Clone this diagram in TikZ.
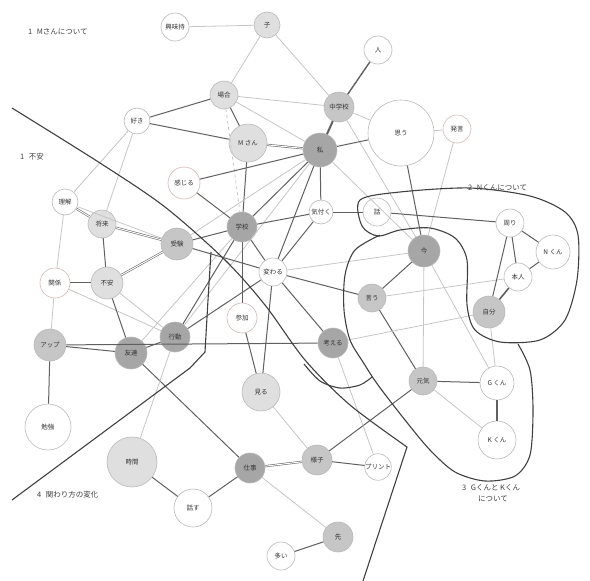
\documentclass[tikz,border=0pt]{standalone}
\usepackage{fontspec}
\setmainfont{Noto Sans CJK JP}
\begin{document}
\begin{tikzpicture}[x=1pt,y=-1pt,
  nd/.style={circle,draw=gray!55,line width=0.6pt,inner sep=0pt,font=\fontsize{6.5}{7}\selectfont,text=black!80},
  pk/.style={draw=red!25!gray!45},
  dk/.style={fill=gray!70},
  md/.style={fill=gray!45},
  lt/.style={fill=gray!25},
  wt/.style={fill=white},
  ed/.style={draw=gray!75!black,line width=1pt},
  el/.style={draw=gray!45,line width=0.8pt},
  dbl/.style={draw=gray!75!black,double=white,double distance=1pt,line width=0.55pt},
  bd/.style={draw=black!75,line width=1.1pt},
  lab/.style={anchor=west,font=\fontsize{7.5}{8}\selectfont,text=black!75,inner sep=0pt}]
\useasboundingbox (0,0) rectangle (590,581);
% nodes
\node[nd,wt,minimum size=28] (kyomi) at (175,27) {興味持};
\node[nd,lt,minimum size=26] (ko) at (267,25) {子};
\node[nd,wt,minimum size=28] (hito) at (378,50) {人};
\node[nd,lt,minimum size=28] (baai) at (224,95) {場合};
\node[nd,md,minimum size=30] (chu) at (339,107) {中学校};
\node[nd,wt,minimum size=26] (suki) at (137,121) {好き};
\node[nd,lt,minimum size=38] (msan) at (248,143) {M さん};
\node[nd,dk,minimum size=34] (wata) at (320,150) {私};
\node[nd,wt,minimum size=66] (omou) at (401,133) {思う};
\node[nd,wt,pk,minimum size=28] (hatsu) at (457,129) {発言};
\node[nd,wt,pk,minimum size=32] (kanji) at (184,183) {感じる};
\node[nd,wt,minimum size=24] (kizu) at (321,212) {気付く};
\node[nd,wt,minimum size=28] (hanashi) at (377,212) {話};
\node[nd,dk,minimum size=30] (gakko) at (242,227) {学校};
\node[nd,wt,minimum size=26] (rikai) at (65,202) {理解};
\node[nd,lt,minimum size=28] (shorai) at (102,224) {将来};
\node[nd,md,minimum size=32] (juken) at (177,244) {受験};
\node[nd,wt,minimum size=28] (kawaru) at (273,272) {変わる};
\node[nd,wt,pk,minimum size=30] (kankei) at (55,283) {関係};
\node[nd,lt,minimum size=32] (fuan) at (107,283) {不安};
\node[nd,md,minimum size=28] (iu) at (372,298) {言う};
\node[nd,dk,minimum size=32] (ima) at (424,251) {今};
\node[nd,wt,minimum size=28] (mawari) at (510,223) {周り};
\node[nd,wt,minimum size=34] (nkun) at (553,252) {N くん};
\node[nd,wt,minimum size=28] (honnin) at (518,277) {本人};
\node[nd,md,minimum size=32] (jibun) at (489,312) {自分};
\node[nd,dk,minimum size=30] (kangae) at (333,343) {考える};
\node[nd,dk,minimum size=30] (kodo) at (175,337) {行動};
\node[nd,dk,minimum size=32] (tomo) at (131,353) {友達};
\node[nd,md,minimum size=32] (up) at (50,345) {アップ};
\node[nd,wt,pk,minimum size=30] (sanka) at (242,318) {参加};
\node[nd,lt,minimum size=38] (miru) at (261,392) {見る};
\node[nd,wt,minimum size=46] (benkyo) at (48,427) {勉強};
\node[nd,lt,minimum size=50] (jikan) at (132,462) {時間};
\node[nd,wt,minimum size=38] (hanasu) at (193,508) {話す};
\node[nd,dk,minimum size=30] (shigoto) at (250,468) {仕事};
\node[nd,md,minimum size=30] (yosu) at (317,460) {様子};
\node[nd,wt,minimum size=26] (print) at (378,467) {プリント};
\node[nd,md,minimum size=30] (saki) at (338,537) {先};
\node[nd,wt,minimum size=28] (oi) at (281,556) {多い};
\node[nd,md,minimum size=28] (genki) at (423,381) {元気};
\node[nd,wt,minimum size=34] (gkun) at (497,383) {G くん};
\node[nd,wt,minimum size=38] (kkun) at (497,440) {K くん};
% edges
\draw[el] (kyomi) -- (ko);
\draw[el] (ko) -- (baai);
\draw[el] (ko) -- (chu);
\draw[ed,line width=1.4pt] (hito) -- (chu);
\draw[ed] (baai) -- (suki);
\draw[ed] (baai) -- (msan);
\draw[el] (baai) -- (chu);
\draw[el] (baai) -- (wata);
\draw[el,dashed] (baai) -- (gakko);
\draw[ed] (suki) -- (msan);
\draw[el] (suki) -- (rikai);
\draw[el] (suki) -- (shorai);
\draw[dbl] (msan) -- (wata);
\draw[ed] (msan) -- (gakko);
\draw[ed,line width=2pt] (chu) -- (wata);
\draw[el] (chu) -- (omou);
\draw[el] (chu) -- (ima);
\draw[ed] (wata) -- (omou);
\draw[ed] (wata) -- (kanji);
\draw[ed] (wata) -- (gakko);
\draw[ed] (wata) -- (kawaru);
\draw[el] (wata) -- (juken);
\draw[ed] (wata) -- (kizu);
\draw[el] (wata) -- (ima);
\draw[el] (wata) -- (kodo);
\draw[el] (omou) -- (hatsu);
\draw[ed] (omou) -- (ima);
\draw[el] (hatsu) -- (ima);
\draw[ed] (kanji) -- (gakko);
\draw[ed] (gakko) -- (juken);
\draw[ed] (gakko) -- (kawaru);
\draw[ed] (gakko) -- (sanka);
\draw[ed] (gakko) -- (kizu);
\draw[el] (gakko) -- (tomo);
\draw[ed] (gakko) -- (kodo);
\draw[dbl] (juken) -- (shorai);
\draw[dbl] (juken) -- (fuan);
\draw[ed] (juken) -- (kawaru);
\draw[el] (juken) -- (rikai);
\draw[dbl] (rikai) -- (shorai);
\draw[el] (rikai) -- (kankei);
\draw[ed] (shorai) -- (fuan);
\draw[dbl] (kankei) -- (fuan);
\draw[el] (kankei) -- (up);
\draw[el] (kankei) -- (kodo);
\draw[ed] (fuan) -- (tomo);
\draw[el] (fuan) -- (kodo);
\draw[ed] (up) -- (tomo);
\draw[ed] (up) -- (kangae);
\draw[ed] (up) -- (benkyo);
\draw[ed] (tomo) -- (kodo);
\draw[ed] (tomo) -- (shigoto);
\draw[ed] (kodo) -- (kawaru);
\draw[el] (kodo) -- (jikan);
\draw[ed] (kawaru) -- (kizu);
\draw[ed] (kawaru) -- (iu);
\draw[ed] (kawaru) -- (kangae);
\draw[ed] (kawaru) -- (miru);
\draw[el] (kawaru) -- (ima);
\draw[ed] (kizu) -- (hanashi);
\draw[ed] (hanashi) -- (mawari);
\draw[ed] (ima) -- (iu);
\draw[el] (ima) -- (genki);
\draw[el] (ima) -- (gkun);
\draw[ed] (iu) -- (genki);
\draw[el] (iu) -- (honnin);
\draw[ed] (mawari) -- (honnin);
\draw[ed] (mawari) -- (nkun);
\draw[ed] (mawari) -- (jibun);
\draw[ed,line width=1.6pt] (honnin) -- (jibun);
\draw[ed] (nkun) -- (honnin);
\draw[el] (jibun) -- (gkun);
\draw[el] (jibun) -- (kangae);
\draw[ed] (genki) -- (gkun);
\draw[el] (genki) -- (kkun);
\draw[ed] (genki) -- (yosu);
\draw[ed,line width=1.4pt] (gkun) -- (kkun);
\draw[ed] (sanka) -- (miru);
\draw[el] (miru) -- (yosu);
\draw[dbl] (yosu) -- (shigoto);
\draw[ed] (yosu) -- (print);
\draw[ed] (shigoto) -- (hanasu);
\draw[el] (shigoto) -- (saki);
\draw[ed] (saki) -- (oi);
\draw[ed] (jikan) -- (hanasu);
\draw[el] (kangae) -- (print);
% hand-drawn boundaries
\draw[bd] plot[smooth] coordinates {(12,108) (100,163) (165,207) (225,260) (265,305) (305,360) (350,405) (407,447)} -- (363,581);
\draw[bd] (12,500) -- (190,368) -- (205,352) -- (208,300) -- (211,252);
\draw[bd] plot[smooth cycle] coordinates {(360,200) (400,192) (470,188) (530,196) (565,212) (578,235) (577,280) (565,320) (540,340) (500,342) (475,330) (467,305) (467,260) (455,238) (430,228) (400,230) (378,236) (362,226)};
\draw[bd] plot[smooth] coordinates {(380,235) (355,250) (345,275) (344,310) (350,340) (363,362) (378,385) (405,420) (430,450) (455,472) (485,481) (515,476) (530,455) (533,410) (530,370) (518,344)};
\draw[bd] plot[smooth] coordinates {(304,364) (320,381) (340,388) (360,385) (372,377)};
% labels
\node[lab] (l1) at (28,32) {1\hspace{0.6em}Mさんについて};
\node[lab] (l5) at (20,157) {1\hspace{0.6em}不安};
\node[lab] (l2) at (468,188) {2\hspace{0.6em}Nくんについて};
\node[lab] (l3) at (462,488) {3\hspace{0.6em}Gくんと Kくん};
\node[lab] (l3b) at (478,499) {について};
\node[lab] (l4) at (37,495) {4\hspace{0.6em}関わり方の変化};
\end{tikzpicture}
\end{document}
